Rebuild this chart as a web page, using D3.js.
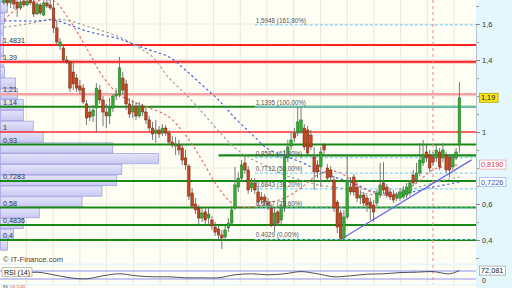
<!DOCTYPE html>
<html><head><meta charset="utf-8">
<script src="https://cdn.jsdelivr.net/npm/d3@7/dist/d3.min.js"></script>
<style>body{margin:0;background:#fff}svg{display:block;font-family:"Liberation Sans",Arial,sans-serif}</style>
</head><body><svg id="c" width="512" height="288"></svg>
<script>
// ---------- DATA ----------
const opens=[1.722,1.739,1.717,1.733,1.722,1.689,1.728,1.706,1.733,1.722,
1.656,1.706,1.650,1.717,1.706,1.689,1.578,1.478,1.467,1.400,
1.389,1.333,1.300,1.256,1.244,1.156,1.111,1.089,1.133,1.233,
1.178,1.111,1.089,1.133,1.200,1.206,1.300,1.267,1.156,1.111,
1.144,1.089,1.144,1.111,1.067,1.022,0.994,1.011,0.994,1.022,
0.994,0.944,0.922,0.928,0.911,0.856,0.811,0.661,0.600,0.578,
0.522,0.556,0.522,0.511,0.472,0.461,0.428,0.417,0.467,0.494,
0.578,0.694,0.744,0.828,0.789,0.689,0.717,0.667,0.639,0.639,
0.606,0.578,0.489,0.556,0.511,0.578,0.856,0.922,0.994,0.994,
1.000,1.022,1.011,0.983,0.861,0.817,0.806,0.928,0.800,0.789,
0.733,0.611,0.550,0.411,0.528,0.694,0.750,0.694,0.633,0.650,
0.633,0.611,0.594,0.606,0.650,0.717,0.694,0.667,0.650,0.633,
0.633,0.639,0.650,0.661,0.761,0.733,0.772,0.828,0.889,0.872,
0.861,0.856,0.889,0.856,0.872,0.861,0.806,0.856,0.928];
const highs=[1.767,1.761,1.750,1.756,1.744,1.739,1.750,1.744,1.750,1.739,
1.722,1.717,1.728,1.733,1.744,1.733,1.622,1.522,1.489,1.422,
1.400,1.389,1.322,1.289,1.267,1.178,1.133,1.150,1.272,1.261,
1.200,1.156,1.189,1.211,1.244,1.417,1.333,1.289,1.189,1.178,
1.167,1.167,1.156,1.133,1.089,1.056,1.067,1.033,1.044,1.039,
1.011,0.978,0.972,0.956,0.933,0.900,0.822,0.689,0.633,0.594,
0.578,0.578,0.578,0.533,0.500,0.478,0.456,0.478,0.522,0.589,
0.806,0.778,0.844,0.867,0.811,0.744,0.744,0.700,0.667,0.656,
0.633,0.594,0.578,0.567,0.600,0.900,0.956,1.000,1.022,1.139,
1.139,1.044,1.033,1.011,0.917,0.844,0.917,0.939,0.822,0.811,
0.756,0.622,0.567,0.567,0.872,0.750,0.767,0.711,0.678,0.667,
0.650,0.633,0.622,0.678,0.828,0.833,0.711,0.689,0.678,0.667,
0.689,0.700,0.717,0.733,0.789,0.828,0.939,0.956,0.928,0.900,
0.889,0.928,0.911,0.939,0.889,0.878,0.878,0.911,1.278];
const lows=[1.706,1.700,1.689,1.683,1.639,1.678,1.694,1.700,1.706,1.639,
1.650,1.650,1.644,1.689,1.678,1.550,1.489,1.456,1.389,1.378,
1.222,1.233,1.222,1.211,1.156,1.039,1.061,1.056,1.000,1.156,
1.033,1.022,1.044,1.111,1.178,1.194,1.206,1.122,1.078,1.078,
1.067,1.078,1.089,1.044,1.000,0.956,0.939,0.967,0.978,0.978,
0.933,0.911,0.872,0.872,0.817,0.789,0.622,0.578,0.544,0.483,
0.500,0.483,0.489,0.456,0.422,0.400,0.350,0.400,0.444,0.478,
0.567,0.667,0.722,0.767,0.656,0.667,0.656,0.589,0.600,0.589,
0.567,0.472,0.444,0.478,0.489,0.556,0.833,0.900,0.944,0.978,
0.989,0.900,0.867,0.900,0.678,0.744,0.694,0.867,0.722,0.722,
0.556,0.439,0.400,0.400,0.517,0.650,0.644,0.611,0.600,0.589,
0.556,0.511,0.500,0.589,0.633,0.656,0.633,0.622,0.606,0.617,
0.617,0.628,0.633,0.644,0.700,0.717,0.756,0.811,0.833,0.778,
0.811,0.833,0.789,0.833,0.772,0.750,0.789,0.844,0.883];
const closes=[1.739,1.717,1.733,1.711,1.689,1.722,1.706,1.728,1.717,1.656,
1.711,1.661,1.717,1.700,1.689,1.578,1.500,1.500,1.400,1.389,
1.244,1.267,1.244,1.233,1.167,1.078,1.083,1.122,1.244,1.178,
1.111,1.089,1.133,1.200,1.211,1.356,1.233,1.156,1.100,1.144,
1.089,1.144,1.111,1.067,1.022,0.989,1.011,0.989,1.022,0.994,
0.944,0.928,0.933,0.900,0.844,0.817,0.644,0.589,0.567,0.522,
0.550,0.511,0.544,0.478,0.444,0.428,0.411,0.456,0.494,0.567,
0.706,0.744,0.817,0.789,0.678,0.717,0.678,0.611,0.622,0.611,
0.594,0.483,0.550,0.494,0.583,0.861,0.917,0.956,0.967,1.056,
1.067,0.917,0.883,0.917,0.778,0.778,0.889,0.900,0.744,0.750,
0.578,0.472,0.411,0.528,0.733,0.667,0.667,0.633,0.650,0.606,
0.594,0.578,0.556,0.661,0.706,0.678,0.650,0.639,0.622,0.650,
0.667,0.678,0.694,0.717,0.717,0.772,0.844,0.872,0.856,0.800,
0.833,0.900,0.806,0.900,0.789,0.789,0.861,0.889,1.190];

// moving averages read at sparse candle indices
const maIdx=[0,5,10,15,20,25,30,35,40,45,50,55,60,65,70,75,80,85,90,95,100,105,110,115,120,125,130,135,138];
const redMA=[1.622,1.700,1.728,1.728,1.617,1.467,1.306,1.206,1.161,1.128,1.083,0.983,0.844,0.689,0.594,0.583,0.606,0.633,0.689,0.761,0.783,0.739,0.678,0.650,0.661,0.717,0.790,0.810,0.819];
const greyMA=[1.583,1.594,1.611,1.628,1.617,1.589,1.561,1.528,1.478,1.417,1.300,1.211,1.111,1.006,0.911,0.850,0.806,0.761,0.733,0.706,0.694,0.678,0.656,0.650,0.656,0.689,0.717,0.739,0.750];
const blueMA=[1.617,1.617,1.617,1.622,1.594,1.561,1.539,1.517,1.483,1.450,1.417,1.344,1.261,1.178,1.078,0.989,0.906,0.867,0.833,0.789,0.750,0.722,0.678,0.661,0.656,0.672,0.694,0.711,0.7226];
const rsiVals=[56,56,64,51,36,31,46,56,46,41,41,36,36,36,51,56,51,56,67,56,41,46,54,56,62,64,67,56,72.081];

// horizontal levels
const levelValues=[1.4831,1.39,1.21,1.14,1,0.93,0.7283,0.58,0.4836,0.4];
const levelLabels=["1,4831","1,39","1,21","1,14","1","0,93","0,7283","0,58","0,4836","0,4"];
const levelTypes=["res","res2","weak","sup","res1","sup","sup","sup","sup","sup"];
const partialLevel={value:0.87,startIdx:65};

// fibonacci retracement
const fibValues=[0.4029,0.5767,0.6843,0.7712,0.8581,1.1395,1.5948];
const fibPct=["0,00%","23,60%","38,20%","50,00%","61,80%","100,00%","161,80%"];
const fibStartIdx=76;

// trend line (candle index, price)
const trendIdx=[102,141.7];
const trendVal=[0.4029,0.845];
const markerIdx=130;

// volume profile (bins of 0.06 starting at 0.34)
const profileStart=0.34, profileBin=0.06;
const profileVol=[7,13,23,39,82,102,117,122,159,113,43,33,23,23,17,15,4,3,3,3,3,4,7,8];

const priceTicks=[0.4,0.6,0.8,1.0,1.2,1.4,1.6];
const labelTicks=[0.4,0.6,1.0,1.4,1.6];
const minorTicks=[0.3,0.4,0.5,0.6,0.7,0.8,0.9,1.0,1.1,1.2,1.3,1.4,1.5,1.6,1.7];
const gridIdx=[6.8,14.9,23,31.1,39.2,47.3,55.4,63.5,71.6,79.7,87.8,95.9,104,112.1,120.2,128.3,136.4];

// ---------- LAYOUT ----------
const W=512,H=288,plotR=476,plotB=263.5;
const rsiT=265,rsiB=284;
const fmtC=(v,d)=>d3.format("."+d+"f")(v).replace(".",",");
const tickFmt=v=>String(+v.toFixed(1)).replace(".",",");

const x=d3.scaleLinear().domain([0,138]).range([4,459.4]);
const y=d3.scaleLinear().domain([0.4,1.6]).range([240,24]);
const yR=d3.scaleLinear().domain([0,100]).range([285,265]);
const xv=d3.scaleLinear().domain([0,160]).range([0,159]);

const svg=d3.select("#c");
svg.append("rect").attr("width",W).attr("height",H).attr("fill","#e3f7fd");
const defs=svg.append("defs");
defs.append("clipPath").attr("id","cp").append("rect").attr("x",0).attr("y",0).attr("width",plotR).attr("height",plotB);
defs.append("clipPath").attr("id","cr").append("rect").attr("x",0).attr("y",rsiT).attr("width",plotR).attr("height",rsiB-rsiT);
const lg=defs.append("linearGradient").attr("id","pg").attr("x1",0).attr("x2",0).attr("y1",0).attr("y2",1);
lg.append("stop").attr("offset","0%").attr("stop-color","#e4e4fb");
lg.append("stop").attr("offset","100%").attr("stop-color","#c9c9f1");

svg.append("rect").attr("x",0).attr("y",0).attr("width",plotR).attr("height",plotB).attr("fill","#fffef4");
const plot=svg.append("g").attr("clip-path","url(#cp)");

// grid
plot.selectAll("line.vg").data(gridIdx).join("line")
 .attr("x1",d=>x(d)).attr("x2",d=>x(d)).attr("y1",0).attr("y2",plotB)
 .attr("stroke","#ece7d4").attr("stroke-width",1);
plot.selectAll("line.hg").data(priceTicks).join("line")
 .attr("x1",0).attr("x2",plotR).attr("y1",d=>y(d)).attr("y2",d=>y(d))
 .attr("stroke","#efece0").attr("stroke-width",1);

// volume profile
plot.selectAll("rect.pf").data(profileVol).join("rect")
 .attr("x",0.5).attr("width",d=>xv(d))
 .attr("y",(d,i)=>y(profileStart+(i+1)*profileBin))
 .attr("height",(d,i)=>y(profileStart+i*profileBin)-y(profileStart+(i+1)*profileBin)-0.6)
 .attr("fill","url(#pg)").attr("stroke","#a3a3e2").attr("stroke-width",0.8);

// levels
const lvStyle={res:{c:"#ff2222",w:2},res2:{c:"#ff2222",w:1.8,halo:"#ffbcbc"},weak:{c:"#f4a2a2",w:2.6},sup:{c:"#178917",w:2},res1:{c:"#ff3333",w:1.4}};
levelValues.forEach((v,i)=>{
  const s=lvStyle[levelTypes[i]];
  if(s.halo) plot.append("line").attr("x1",0).attr("x2",plotR).attr("y1",y(v)).attr("y2",y(v)).attr("stroke",s.halo).attr("stroke-width",4);
  plot.append("line").attr("x1",0).attr("x2",plotR).attr("y1",y(v)).attr("y2",y(v)).attr("stroke",s.c).attr("stroke-width",s.w);
});
plot.append("line").attr("x1",x(partialLevel.startIdx)).attr("x2",plotR)
 .attr("y1",y(partialLevel.value)).attr("y2",y(partialLevel.value)).attr("stroke","#178917").attr("stroke-width",2.4);

// fib lines
fibValues.forEach((v,i)=>{
  plot.append("line").attr("x1",x(fibStartIdx)).attr("x2",plotR).attr("y1",y(v)).attr("y2",y(v))
   .attr("stroke","#86d2f2").attr("stroke-width",1.2).attr("stroke-dasharray",fibPct[i]==="100,00%"?null:"3,2");
});

// vertical marker
plot.append("line").attr("x1",x(markerIdx)).attr("x2",x(markerIdx)).attr("y1",0).attr("y2",plotB)
 .attr("stroke","#f28a8a").attr("stroke-width",1.1).attr("stroke-dasharray","3,3");

// moving averages
const maLine=d3.line().x((d,i)=>x(maIdx[i])).y(d=>y(d)).curve(d3.curveCatmullRom);
[[greyMA,"#a0a0a0"],[blueMA,"#4a64dc"],[redMA,"#ee6c6c"]].forEach(([arr,c])=>{
  plot.append("path").attr("d",maLine(arr)).attr("fill","none").attr("stroke",c).attr("stroke-width",1.2).attr("stroke-dasharray","2.5,2.5");
});

// trend line
plot.append("line").attr("x1",x(trendIdx[0])).attr("x2",x(trendIdx[1])).attr("y1",y(trendVal[0])).attr("y2",y(trendVal[1]))
 .attr("stroke","#6a6ae8").attr("stroke-width",1.3);

// candles
const candles=opens.map((o,i)=>({i,o,h:highs[i],l:lows[i],c:closes[i]}));
const bw=(x(1)-x(0))*0.78;
const cg=plot.append("g");
cg.selectAll("line").data(candles).join("line")
 .attr("x1",d=>x(d.i)).attr("x2",d=>x(d.i)).attr("y1",d=>y(d.h)).attr("y2",d=>y(d.l))
 .attr("stroke","#6a6a6a").attr("stroke-width",0.9);
cg.selectAll("rect").data(candles).join("rect")
 .attr("x",d=>x(d.i)-bw/2).attr("width",bw)
 .attr("y",d=>y(Math.max(d.o,d.c))).attr("height",d=>Math.max(0.8,Math.abs(y(d.o)-y(d.c))))
 .attr("fill",d=>d.c>=d.o?"#2fae2f":"#c6441e").attr("stroke",d=>d.c>=d.o?"#2a6e2a":"#6a2a18").attr("stroke-width",0.5);

// level labels
levelValues.forEach((v,i)=>{
  plot.append("text").attr("x",3).attr("y",y(v)-2).attr("font-size",7.2).attr("fill","#333").text(levelLabels[i]);
});
// fib labels
fibValues.forEach((v,i)=>{
  plot.append("text").attr("x",x(fibStartIdx)+1).attr("y",y(v)-2).attr("font-size",6.3).attr("fill","#555")
   .text(fmtC(v,4)+" ("+fibPct[i]+")");
});
plot.append("text").attr("x",3).attr("y",plotB-1.5).attr("font-size",7.6).attr("fill","#444").text("\u00a9 IT-Finance.com");

// right axis
const ax=svg.append("g").attr("transform",`translate(${plotR},0)`);
ax.call(d3.axisRight(y).tickValues(minorTicks.filter(v=>y(v)>0&&y(v)<plotB)).tickSize(3).tickFormat(""));
ax.call(g=>g.select(".domain").remove());
ax.selectAll("line").attr("stroke","#999");
const ax2=svg.append("g").attr("transform",`translate(${plotR},0)`);
ax2.call(d3.axisRight(y).tickValues(labelTicks).tickSize(4).tickFormat(tickFmt));
ax2.select(".domain").attr("stroke","#b8c4c8");
ax2.selectAll("line").attr("stroke","#888");
ax2.selectAll("text").attr("font-size",7.5).attr("fill","#333").attr("font-family","Liberation Sans, Arial, sans-serif").attr("x",6);

function valBox(v,txt,fill,stroke,color){
  const g=svg.append("g");
  g.append("rect").attr("x",479.5).attr("y",y(v)-4.5).attr("width",txt.length*3.9+3).attr("height",9)
   .attr("fill",fill).attr("stroke",stroke).attr("stroke-width",0.8);
  g.append("text").attr("x",481).attr("y",y(v)+2.6).attr("font-size",7.3).attr("fill",color).text(txt);
}
valBox(closes[closes.length-1],fmtC(closes[closes.length-1],2),"#f6e41a","#b8a800","#222");
valBox(redMA[redMA.length-1],fmtC(redMA[redMA.length-1],4),"#ffffff","#f0a8a8","#e03a3a");
valBox(blueMA[blueMA.length-1],fmtC(blueMA[blueMA.length-1],4),"#ffffff","#a8b4f0","#3650c4");

// RSI panel
svg.append("rect").attr("x",0).attr("y",rsiT).attr("width",plotR).attr("height",rsiB-rsiT).attr("fill","#fffef4");
const rp=svg.append("g").attr("clip-path","url(#cr)");
rp.selectAll("line.vg").data(gridIdx).join("line")
 .attr("x1",d=>x(d)).attr("x2",d=>x(d)).attr("y1",rsiT).attr("y2",rsiB).attr("stroke","#ece7d4");
[70,30].forEach(v=>rp.append("line").attr("x1",0).attr("x2",plotR).attr("y1",yR(v)).attr("y2",yR(v)).attr("stroke","#8f8ff0").attr("stroke-width",1));
rp.append("line").attr("x1",x(markerIdx)).attr("x2",x(markerIdx)).attr("y1",rsiT).attr("y2",rsiB)
 .attr("stroke","#f28a8a").attr("stroke-width",1).attr("stroke-dasharray","3,3");
rp.append("path").attr("d",d3.line().x((d,i)=>x(maIdx[i])).y(d=>yR(d)).curve(d3.curveCatmullRom)(rsiVals))
 .attr("fill","none").attr("stroke","#3a3a4a").attr("stroke-width",0.9);
svg.append("rect").attr("x",2).attr("y",267.5).attr("width",30).attr("height",9).attr("fill","#fbfbf6").attr("stroke","#aaa").attr("stroke-width",0.7);
svg.append("text").attr("x",4).attr("y",274.5).attr("font-size",7).attr("fill","#222").text("RSI (14)");
const rsiLast=rsiVals[rsiVals.length-1];
svg.append("rect").attr("x",479.5).attr("y",yR(rsiLast)-4.5).attr("width",26).attr("height",9).attr("fill","#fff").attr("stroke","#999").attr("stroke-width",0.7);
svg.append("text").attr("x",481).attr("y",yR(rsiLast)+2.6).attr("font-size",7.3).attr("fill","#222").text(fmtC(rsiLast,3));
svg.append("text").attr("x",482).attr("y",yR(30)+3.5).attr("font-size",7).attr("fill","#333").text("0");

// bottom panel edge
svg.append("rect").attr("x",0).attr("y",285.5).attr("width",plotR).attr("height",3).attr("fill","#fffef4");
svg.append("text").attr("x",3).attr("y",288).attr("font-size",3).attr("fill","#333").text("RSI");
svg.append("text").attr("x",10).attr("y",288).attr("font-size",3).attr("fill","#e03a3a").text("(14) 72,081");
</script></body></html>
